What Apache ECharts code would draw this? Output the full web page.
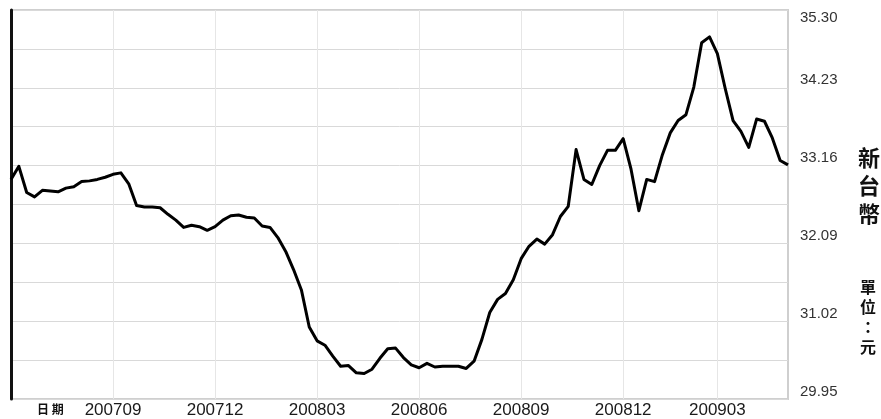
<!DOCTYPE html>
<html>
<head>
<meta charset="utf-8">
<script src="https://cdn.jsdelivr.net/npm/echarts@6/dist/echarts.min.js"></script>
<style>
html,body{margin:0;padding:0;background:#fff;}
#chart{width:881px;height:419px;}
</style>
</head>
<body>
<div id="chart"></div>
<script>
// weekly exchange rate (NT$ per US$), ~100 weeks
const rateValues = [
  32.97, 33.15, 32.79, 32.73, 32.82, 32.81, 32.80, 32.85, 32.87, 32.94,
  32.95, 32.97, 33.00, 33.04, 33.06, 32.91, 32.61, 32.59, 32.59, 32.58,
  32.49, 32.41, 32.31, 32.34, 32.32, 32.27, 32.32, 32.41, 32.47, 32.48,
  32.45, 32.44, 32.33, 32.31, 32.17, 31.98, 31.73, 31.45, 30.94, 30.75,
  30.69, 30.54, 30.40, 30.41, 30.31, 30.30, 30.36, 30.51, 30.64, 30.65,
  30.52, 30.42, 30.38, 30.44, 30.39, 30.40, 30.40, 30.40, 30.37, 30.47,
  30.77, 31.14, 31.32, 31.40, 31.59, 31.88, 32.05, 32.15, 32.08, 32.21,
  32.46, 32.60, 33.38, 32.97, 32.90, 33.16, 33.37, 33.37, 33.53, 33.11,
  32.54, 32.97, 32.94, 33.31, 33.61, 33.78, 33.86, 34.24, 34.85, 34.93,
  34.70, 34.22, 33.78, 33.63, 33.41, 33.80, 33.77, 33.54, 33.23, 33.17
];
const xTickLabels = ['200709', '200712', '200803', '200806', '200809', '200812', '200903'];
const xTickIndex = [13, 26, 39, 52, 65, 78, 90];
const yTickLabels = ['29.95', '31.02', '32.09', '33.16', '34.23', '35.30'];
const yMin = 29.95, yMax = 35.30, yStep = 0.535;

const categories = rateValues.map((v, i) => {
  const k = xTickIndex.indexOf(i);
  return k >= 0 ? xTickLabels[k] : 'w' + i;
});

const chart = echarts.init(document.getElementById('chart'), null, {renderer: 'canvas'});
chart.setOption({
  animation: false,
  backgroundColor: '#ffffff',
  grid: {
    left: 11, right: 93, top: 10, bottom: 19,
    show: true, borderColor: '#cfcfcf', borderWidth: 2, backgroundColor: '#ffffff'
  },
  xAxis: {
    type: 'category',
    data: categories,
    boundaryGap: false,
    axisLine: {show: false},
    axisTick: {show: false},
    axisLabel: {
      interval: (i) => xTickIndex.indexOf(i) >= 0,
      margin: 3,
      color: '#1a1a1a',
      fontSize: 17,
      fontFamily: 'Liberation Sans, Arial, sans-serif'
    },
    splitLine: {
      show: true,
      interval: (i) => xTickIndex.indexOf(i) >= 0,
      lineStyle: {color: '#e6e6e6', width: 1}
    }
  },
  yAxis: [{
    type: 'value',
    position: 'right',
    min: yMin, max: yMax, interval: yStep,
    axisLine: {show: false},
    axisTick: {show: false},
    axisLabel: {
      margin: 12,
      color: '#333333',
      fontSize: 15,
      fontFamily: 'Liberation Sans, Arial, sans-serif',
      verticalAlign: 'bottom',
      verticalAlignMaxLabel: 'top',
      formatter: (v) => {
        const k = Math.round((v - yMin) / yStep);
        return k % 2 === 0 ? (yTickLabels[k / 2] || '') : '';
      }
    },
    splitLine: {show: true, lineStyle: {color: '#d9d9d9', width: 1}}
  }, {
    type: 'value',
    position: 'left',
    min: yMin, max: yMax, interval: yStep,
    axisLine: {show: true, lineStyle: {color: '#111111', width: 3}},
    axisTick: {show: false},
    axisLabel: {show: false},
    splitLine: {show: false}
  }],
  series: [{
    type: 'line',
    data: rateValues,
    yAxisIndex: 0,
    showSymbol: false,
    symbol: 'none',
    lineStyle: {color: '#000000', width: 3, join: 'round'},
    z: 5
  }],
  graphic: [
    {type: 'text', left: 37, top: 403, style: {text: '日 期', font: 'bold 12px "Noto Sans CJK TC"', fill: '#111'}},
    {type: 'text', left: 858, top: 144, style: {text: '新\n台\n幣', font: 'bold 22px "Noto Sans CJK TC"', fill: '#111', lineHeight: 28, align: 'left'}},
    {type: 'text', left: 860, top: 277, style: {text: '單\n位\n：\n元', font: 'bold 16px "Noto Sans CJK TC"', fill: '#111', lineHeight: 20, align: 'left'}}
  ]
});
</script>
</body>
</html>
